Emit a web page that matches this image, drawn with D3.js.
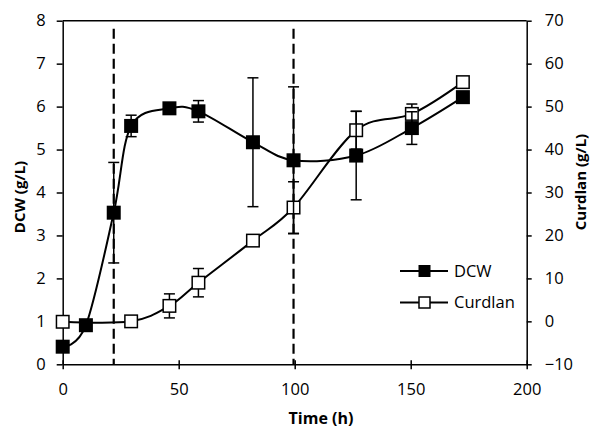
<!DOCTYPE html>
<html><head><meta charset="utf-8">
<script src="https://cdn.jsdelivr.net/npm/d3@7"></script>
<style>body{margin:0;background:#fff}svg{display:block}text{font-family:"Open Sans",sans-serif}</style>
</head><body><svg id="c" width="600" height="439"></svg>
<script>
// Data
const dcwTime   = [0, 10, 22, 29.5, 46, 58.5, 82, 99.5, 126.5, 150.5, 172.5];
const dcwValue  = [0.41, 0.91, 3.53, 5.55, 5.96, 5.89, 5.17, 4.75, 4.86, 5.50, 6.22];
const dcwError  = [0, 0, 1.17, 0.25, 0.05, 0.25, 1.5, 1.71, 1.03, 0.38, 0];
const curTime   = [0, 29.5, 46, 58.5, 82, 99.5, 126.5, 150.5, 172.5];
const curValue  = [-0.1, 0, 3.6, 9.0, 18.8, 26.5, 44.5, 48.3, 55.7];
const curError  = [0, 0, 2.8, 3.3, 0, 6.0, 4.4, 2.3, 0];
const dashedTimes = [22, 99.5];
const xTicks  = [0, 50, 100, 150, 200];
const yTicks  = [0, 1, 2, 3, 4, 5, 6, 7, 8];
const y2Ticks = [-10, 0, 10, 20, 30, 40, 50, 60, 70];
const seriesNames = ["DCW", "Curdlan"];

const svg = d3.select("#c");
const L = 62.7, R = 526.7, T = 20.7, B = 364.3;
const x = d3.scaleLinear().domain([0, 200]).range([L, R]);
const y = d3.scaleLinear().domain([0, 8]).range([B, T]);
const y2 = d3.scaleLinear().domain([-10, 70]).range([B, T]);

// Plot frame top
svg.append("line").attr("x1", L).attr("x2", R).attr("y1", T).attr("y2", T)
  .attr("stroke", "#000").attr("stroke-width", 1.5);

// Axes
const fs = "16.5px";
const gx = svg.append("g").attr("transform", `translate(0,${B})`)
  .call(d3.axisBottom(x).tickValues(xTicks).tickSizeInner(5).tickSizeOuter(0).tickPadding(14));
gx.selectAll(".tick line").attr("y1", -4);
const gy = svg.append("g").attr("transform", `translate(${L},0)`)
  .call(d3.axisLeft(y).tickValues(yTicks).tickSizeInner(6).tickSizeOuter(0).tickPadding(11));
const gy2 = svg.append("g").attr("transform", `translate(${R},0)`)
  .call(d3.axisRight(y2).tickValues(y2Ticks).tickSizeInner(5).tickSizeOuter(0).tickPadding(13));
[gx, gy, gy2].forEach(g => {
  g.select(".domain").attr("stroke-width", 1.5);
  g.selectAll(".tick line").attr("stroke-width", 1.5);
  g.selectAll("text").style("font-size", fs).attr("fill", "#000").style("font-family", "'Open Sans',sans-serif");
});

// Dashed verticals
svg.selectAll(".dash").data(dashedTimes).enter().append("line")
  .attr("x1", d => x(d)).attr("x2", d => x(d)).attr("y1", T + 8).attr("y2", B)
  .attr("stroke", "#000").attr("stroke-width", 2.2).attr("stroke-dasharray", "10,5");

// Titles
svg.append("text").attr("x", 321).attr("y", 418).attr("dy", "0.35em").attr("text-anchor", "middle")
  .style("font-size", "16px").style("font-weight", "bold").text("Time (h)");
svg.append("text").attr("transform", `translate(19.5,197) rotate(-90)`).attr("dy", "0.35em").attr("text-anchor", "middle")
  .style("font-size", "15px").style("font-weight", "bold").text("DCW (g/L)");
svg.append("text").attr("transform", `translate(581,182) rotate(-90)`).attr("dy", "0.35em").attr("text-anchor", "middle")
  .style("font-size", "15px").style("font-weight", "bold").text("Curdlan (g/L)");

const curve = d3.curveCardinal.tension(0);
const ms = 14;

function drawSeries(times, vals, errs, ys, fill) {
  const pts = times.map((t, i) => ({ t, v: vals[i], e: errs[i] }));
  svg.append("path").datum(pts)
    .attr("d", d3.line().x(d => x(d.t)).y(d => ys(d.v)).curve(curve))
    .attr("fill", "none").attr("stroke", "#000").attr("stroke-width", 2);
  const eb = svg.append("g");
  pts.filter(d => d.e > 0).forEach(d => {
    const cx = x(d.t);
    eb.append("line").attr("x1", cx).attr("x2", cx).attr("y1", ys(d.v + d.e)).attr("y2", ys(d.v - d.e))
      .attr("stroke", "#000").attr("stroke-width", 1.5);
    [d.v + d.e, d.v - d.e].forEach(v => eb.append("line").attr("x1", cx - 5.5).attr("x2", cx + 5.5)
      .attr("y1", ys(v)).attr("y2", ys(v)).attr("stroke", "#000").attr("stroke-width", 1.5));
  });
  svg.append("g").selectAll("rect").data(pts).enter().append("rect")
    .attr("x", d => x(d.t) - ms / 2 + (fill ? 0 : 0.75)).attr("y", d => ys(d.v) - ms / 2 + (fill ? 0 : 0.75))
    .attr("width", fill ? ms : ms - 1.5).attr("height", fill ? ms : ms - 1.5)
    .attr("fill", fill ? "#000" : "#fff").attr("stroke", "#000").attr("stroke-width", fill ? 0 : 1.5);
}
drawSeries(curTime, curValue, curError, y2, false);
drawSeries(dcwTime, dcwValue, dcwError, y, true);

// Legend
const lg = svg.append("g");
seriesNames.forEach((n, i) => {
  const ly = 271 + i * 31.5;
  lg.append("line").attr("x1", 400).attr("x2", 448).attr("y1", ly).attr("y2", ly)
    .attr("stroke", "#000").attr("stroke-width", 2);
  if (i === 0) lg.append("rect").attr("x", 418.5).attr("y", ly - 6).attr("width", 12).attr("height", 12).attr("fill", "#000");
  else lg.append("rect").attr("x", 419).attr("y", ly - 5.5).attr("width", 11).attr("height", 11)
    .attr("fill", "#fff").attr("stroke", "#000").attr("stroke-width", 1.5);
  lg.append("text").attr("x", 454).attr("y", ly).attr("dy", "0.35em").style("font-size", fs).text(n);
});
</script></body></html>
